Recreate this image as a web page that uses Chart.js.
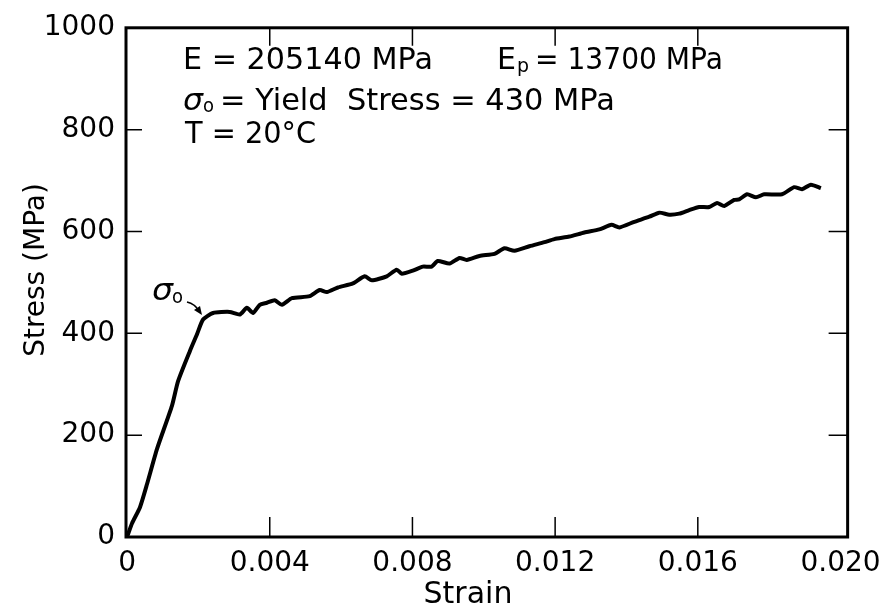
<!DOCTYPE html>
<html>
<head>
<meta charset="utf-8">
<script src="https://cdn.jsdelivr.net/npm/chart.js@4/dist/chart.umd.min.js"></script>
<style>
html,body{margin:0;padding:0;background:#fff;}
#c{display:block;}
</style>
</head>
<body>
<canvas id="c" width="891" height="611"></canvas>
<script>
// ---- data ----
const strainValues = [0, 0.00014, 0.00036, 0.00056, 0.00084, 0.00126, 0.00143, 0.00176, 0.00196, 0.00213,
  0.00241, 0.00288, 0.00316, 0.00336, 0.00353, 0.00372, 0.00392, 0.00414, 0.00434, 0.00462,
  0.00512, 0.00540, 0.00560, 0.00591, 0.00633, 0.00666, 0.00686, 0.00728, 0.00756, 0.00770,
  0.00801, 0.00829, 0.00854, 0.00871, 0.00904, 0.00932, 0.00952, 0.00988, 0.01030, 0.01058,
  0.01086, 0.01128, 0.01170, 0.01198, 0.01240, 0.01282, 0.01324, 0.01358, 0.01380, 0.01422,
  0.01464, 0.01492, 0.01520, 0.01548, 0.01576, 0.01604, 0.01632, 0.01654, 0.01674, 0.01702,
  0.01716, 0.01738, 0.01763, 0.01786, 0.01836, 0.01870, 0.01892, 0.01917, 0.01945];
const stressValues = [0, 27, 58, 104, 173, 258, 306, 365, 398, 427,
  440, 442, 437, 450, 440, 456, 460, 465, 456, 469,
  473, 485, 481, 490, 498, 512, 504, 512, 525, 517,
  523, 531, 531, 542, 537, 548, 544, 552, 556, 567,
  562, 571, 579, 585, 590, 598, 604, 613, 608, 619,
  629, 637, 633, 635, 642, 648, 648, 656, 650, 662,
  663, 673, 667, 673, 673, 687, 683, 692, 685];
const xTickValues = [0, 0.004, 0.008, 0.012, 0.016, 0.020];
const xTickLabels = ['0', '0.004', '0.008', '0.012', '0.016', '0.020'];
const yTickValues = [0, 200, 400, 600, 800, 1000];
const yTickLabels = ['0', '200', '400', '600', '800', '1000'];
const xTitle = 'Strain';
const yTitle = 'Stress (MPa)';

const points = strainValues.map((s, i) => ({x: s, y: stressValues[i]}));
const FONT = 'DejaVu Sans';

function fitText(ctx, text, x, y, w) {
  const m = ctx.measureText(text).width;
  ctx.save();
  ctx.translate(x, y);
  if (w) ctx.scale(w / m, 1);
  ctx.fillText(text, 0, 0);
  ctx.restore();
  return w || m;
}

const framePlugin = {
  id: 'frame',
  afterDraw(chart) {
    const ctx = chart.ctx;
    const a = chart.chartArea;
    const xs = chart.scales.x, ys = chart.scales.y;
    ctx.save();
    ctx.strokeStyle = '#000';
    ctx.fillStyle = '#000';
    // frame
    ctx.lineWidth = 3;
    ctx.strokeRect(a.left, a.top, a.right - a.left, a.bottom - a.top);
    // inward ticks
    ctx.lineWidth = 1.5;
    ctx.beginPath();
    xTickValues.slice(1, 5).forEach(v => {
      const px = xs.getPixelForValue(v);
      ctx.moveTo(px, a.bottom); ctx.lineTo(px, a.bottom - 20);
      ctx.moveTo(px, a.top); ctx.lineTo(px, a.top + 18);
    });
    yTickValues.slice(1, 5).forEach(v => {
      const py = ys.getPixelForValue(v);
      ctx.moveTo(a.left, py); ctx.lineTo(a.left + 16, py);
      ctx.moveTo(a.right, py); ctx.lineTo(a.right - 19, py);
    });
    ctx.stroke();

    // axis titles
    ctx.textBaseline = 'middle';
    ctx.textAlign = 'center';
    ctx.font = '30px "' + FONT + '"';
    ctx.fillText(xTitle, 468, 595);
    ctx.save();
    ctx.translate(37, 270);
    ctx.rotate(-Math.PI / 2);
    ctx.font = '28px "' + FONT + '"';
    ctx.fillText(yTitle, 0, 0);
    ctx.restore();

    // annotations
    ctx.textAlign = 'left';
    ctx.textBaseline = 'alphabetic';
    ctx.font = '30px "' + FONT + '"';
    fitText(ctx, 'E = 205140 MPa', 183, 69, 250);
    // E_p = 13700 MPa
    ctx.font = '30px "' + FONT + '"';
    fitText(ctx, 'E', 497, 69, 19);
    ctx.font = '20px "' + FONT + '"';
    fitText(ctx, 'p', 517, 72, 12);
    ctx.font = '30px "' + FONT + '"';
    fitText(ctx, '= 13700 MPa', 535, 69, 188);
    // sigma_o = Yield Stress = 430 MPa
    ctx.font = 'italic 30px "' + FONT + '"';
    fitText(ctx, 'σ', 183, 110, 20);
    ctx.font = '20px "' + FONT + '"';
    fitText(ctx, 'o', 203, 112, 11);
    ctx.font = '30px "' + FONT + '"';
    fitText(ctx, '= Yield  Stress = 430 MPa', 220, 110, 395);
    fitText(ctx, 'T = 20°C', 185, 143, 131);

    // sigma_o label with arrow at the yield point
    ctx.font = 'italic 30px "' + FONT + '"';
    fitText(ctx, 'σ', 152, 300, 21);
    ctx.font = '20px "' + FONT + '"';
    fitText(ctx, 'o', 172, 303, 11);
    ctx.lineWidth = 1.5;
    ctx.beginPath();
    ctx.moveTo(187, 302);
    ctx.quadraticCurveTo(195, 304, 199, 311);
    ctx.stroke();
    ctx.beginPath();
    ctx.moveTo(202, 315);
    ctx.lineTo(194, 310);
    ctx.lineTo(200, 306);
    ctx.closePath();
    ctx.fill();
    ctx.restore();
  }
};

new Chart(document.getElementById('c'), {
  type: 'scatter',
  data: {
    datasets: [{
      data: points,
      showLine: true,
      borderColor: '#000',
      borderWidth: 4,
      pointRadius: 0,
      tension: 0.2,
      fill: false
    }]
  },
  options: {
    responsive: false,
    animation: false,
    layout: {padding: {top: 17, right: 43, left: 0, bottom: 0}},
    plugins: {legend: {display: false}, tooltip: {enabled: false}},
    scales: {
      x: {
        type: 'linear',
        min: -0.00003,
        max: 0.0202,
        afterBuildTicks: s => { s.ticks = xTickValues.map(v => ({value: v})); },
        afterFit: s => { s.height = 74; },
        grid: {display: false, drawTicks: false},
        border: {display: false},
        ticks: {
          padding: 10,
          color: '#000',
          font: {family: FONT, size: 28},
          maxRotation: 0,
          autoSkip: false,
          callback: (v, i) => xTickLabels[i]
        }
      },
      y: {
        type: 'linear',
        min: 0,
        max: 1000,
        afterBuildTicks: s => { s.ticks = yTickValues.map(v => ({value: v})); },
        afterFit: s => { s.width = 126; },
        grid: {display: false, drawTicks: false},
        border: {display: false},
        ticks: {
          padding: 11,
          color: '#000',
          font: {family: FONT, size: 28},
          autoSkip: false,
          callback: (v, i) => yTickLabels[i]
        }
      }
    }
  },
  plugins: [framePlugin]
});
</script>
</body>
</html>
